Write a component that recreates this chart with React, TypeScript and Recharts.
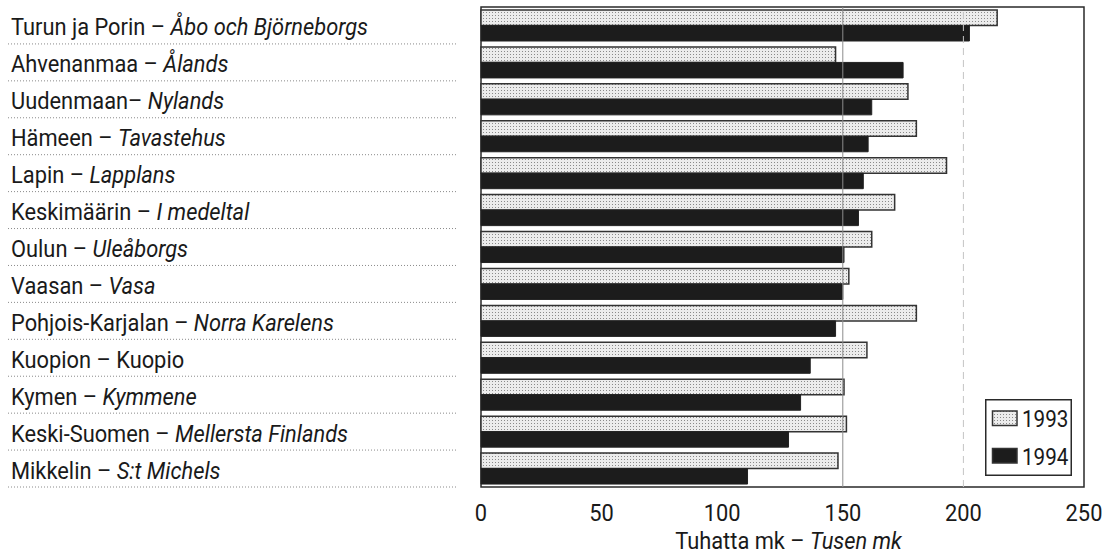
import { BarChart, Bar, XAxis, YAxis, ReferenceLine, ReferenceArea, Legend } from 'recharts'

const regionFi = [
  'Turun ja Porin – ',
  'Ahvenanmaa – ',
  'Uudenmaan– ',
  'Hämeen – ',
  'Lapin – ',
  'Keskimäärin – ',
  'Oulun – ',
  'Vaasan – ',
  'Pohjois-Karjalan – ',
  'Kuopion – ',
  'Kymen – ',
  'Keski-Suomen – ',
  'Mikkelin – ',
]
const regionSv = [
  'Åbo och Björneborgs',
  'Ålands',
  'Nylands',
  'Tavastehus',
  'Lapplans',
  'I medeltal',
  'Uleåborgs',
  'Vasa',
  'Norra Karelens',
  'Kuopio',
  'Kymmene',
  'Mellersta Finlands',
  'S:t Michels',
]
const uprightSv = ['Kuopio']
const values1993 = [214, 147, 177, 180.5, 193, 171.5, 162, 152.5, 180.5, 160, 150.5, 151.5, 148]
const values1994 = [202.5, 175, 162, 160.5, 158.5, 156.5, 150.5, 150, 147, 136.5, 132.5, 127.5, 110.5]
const xTicks = [0, 50, 100, 150, 200, 250]
const seriesNames = ['1993', '1994']

const data = regionFi.map((fi, i) => ({
  name: fi + regionSv[i],
  v1993: values1993[i],
  v1994: values1994[i],
}))

const FONT = "Roboto, 'Noto Sans', sans-serif"
const FS = 24
const SX = 0.91
const TEXT = '#1a1a1a'
const W = 1102
const H = 554
const MARGIN = { top: 7, right: 18, bottom: 7, left: 0 }
const X_AXIS_H = 60
const Y_AXIS_W = 481
const BAND = (H - MARGIN.top - MARGIN.bottom - X_AXIS_H) / data.length

function NarrowText({ x, y, anchor = 'start', sx = SX, children }: any) {
  return (
    <text
      transform={`translate(${x},${y}) scale(${sx},1)`}
      x={0}
      y={0}
      textAnchor={anchor}
      fontSize={FS}
      fill={TEXT}
      fontFamily={FONT}
    >
      {children}
    </text>
  )
}

function RegionTick(props: any) {
  const { y, index } = props
  const sv = regionSv[index]
  return (
    <g>
      <NarrowText x={11} y={y + 10}>
        <tspan>{regionFi[index]}</tspan>
        <tspan fontStyle={uprightSv.includes(sv) ? 'normal' : 'italic'}>{sv}</tspan>
      </NarrowText>
      <line x1={8} x2={458} y1={y + BAND / 2} y2={y + BAND / 2} stroke="#8a8a8a" strokeWidth={1} strokeDasharray="1 2" />
    </g>
  )
}

function ValueTick(props: any) {
  const { x, payload } = props
  return (
    <NarrowText x={x} y={H - MARGIN.bottom - X_AXIS_H + 34} anchor="middle">
      {payload.value}
    </NarrowText>
  )
}

function AxisTitle(props: any) {
  const { viewBox } = props
  const cx = viewBox.x + viewBox.width / 2 + 6
  return (
    <NarrowText x={cx} y={viewBox.y + 62} anchor="middle">
      <tspan>Tuhatta mk – </tspan>
      <tspan fontStyle="italic">Tusen mk</tspan>
    </NarrowText>
  )
}

function LegendBox() {
  return (
    <svg width={87} height={77} style={{ display: 'block' }}>
      <defs>
        <pattern id="legendDots" width={3} height={3} patternUnits="userSpaceOnUse">
          <rect width={3} height={3} fill="#ececec" />
          <rect width={1} height={1} fill="#8a8a8a" />
        </pattern>
      </defs>
      <rect x={0.75} y={0.75} width={85.5} height={75.5} fill="#fff" stroke="#2a2a2a" strokeWidth={1.5} />
      {seriesNames.map((s, i) => (
        <g key={s}>
          <rect
            x={7.5}
            y={12 + i * 37.5}
            width={24.5}
            height={14.5}
            fill={i === 0 ? 'url(#legendDots)' : '#1c1c1c'}
            stroke="#333"
            strokeWidth={1.5}
          />
          <NarrowText x={37} y={28 + i * 37.5} sx={0.86}>{s}</NarrowText>
        </g>
      ))}
    </svg>
  )
}

export default function App() {
  return (
    <div style={{ position: 'absolute', left: 0, top: 0, width: W, height: H, background: '#fff' }}>
      <BarChart width={W} height={H} data={data} layout="vertical" margin={MARGIN} barSize={15.5} barGap={0}>
        <defs>
          <pattern id="dots93" width={3} height={3} patternUnits="userSpaceOnUse">
            <rect width={3} height={3} fill="#ececec" />
            <rect width={1} height={1} fill="#8a8a8a" />
          </pattern>
        </defs>
        <XAxis
          type="number"
          domain={[0, 250]}
          ticks={xTicks}
          height={X_AXIS_H}
          axisLine={false}
          tickLine={false}
          tick={<ValueTick />}
          label={<AxisTitle />}
        />
        <YAxis
          type="category"
          dataKey="name"
          width={Y_AXIS_W}
          axisLine={false}
          tickLine={false}
          tick={<RegionTick />}
          interval={0}
        />
        <ReferenceLine x={150} stroke="#8c8c8c" strokeWidth={1} />
        <ReferenceLine x={200} stroke="#c4c4c4" strokeWidth={1} strokeDasharray="7 5" />
        <Bar dataKey="v1993" name="1993" fill="url(#dots93)" stroke="#333" strokeWidth={1.5} isAnimationActive={false} />
        <Bar dataKey="v1994" name="1994" fill="#1c1c1c" stroke="#222" strokeWidth={1} isAnimationActive={false} />
        <ReferenceArea x1={0} x2={250} fill="none" stroke="#2a2a2a" strokeWidth={1.5} />
        <Legend
          layout="vertical"
          align="center"
          verticalAlign="middle"
          content={<LegendBox />}
          wrapperStyle={{ left: 985, top: 399, width: 87, height: 77 }}
        />
      </BarChart>
    </div>
  )
}
